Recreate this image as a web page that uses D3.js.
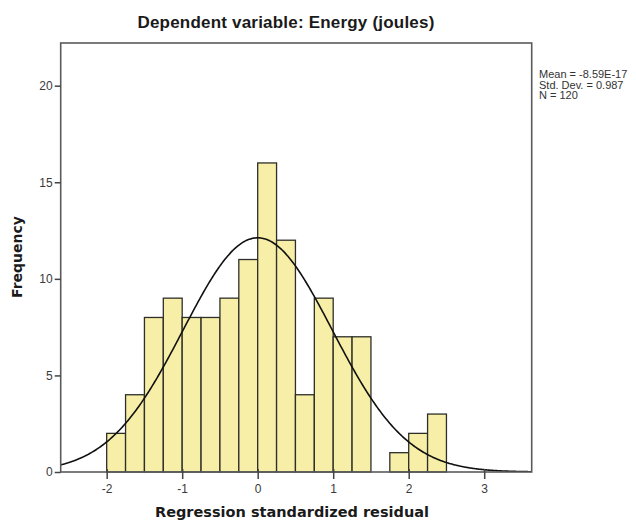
<!DOCTYPE html>
<html>
<head>
<meta charset="utf-8">
<script src="https://cdn.jsdelivr.net/npm/d3@7"></script>
<style>
  html, body { margin: 0; padding: 0; background: #fff; }
  svg { display: block; }
</style>
</head>
<body>
<svg id="chart" width="636" height="521"></svg>
<script>
// ---- Data ----
const binStarts = [-2.0, -1.75, -1.5, -1.25, -1.0, -0.75, -0.5, -0.25, 0.0, 0.25, 0.5, 0.75, 1.0, 1.25, 1.5, 1.75, 2.0, 2.25];
const frequencies = [2, 4, 8, 9, 8, 8, 9, 11, 16, 12, 4, 9, 7, 7, 0, 1, 2, 3];
const binWidth = 0.25;
const xTicks = [-2, -1, 0, 1, 2, 3];
const yTicks = [0, 5, 10, 15, 20];
const statMean = -8.59e-17;
const statSD = 0.987;
const statN = 120;
const legendLines = ["Mean = -8.59E-17", "Std. Dev. = 0.987", "N = 120"];
const titleText = "Dependent variable: Energy (joules)";
const xLabel = "Regression standardized residual";
const yLabel = "Frequency";

// ---- Layout ----
const svg = d3.select("#chart");
const plot = { left: 60.7, right: 531.7, top: 43, bottom: 472 };

const x = d3.scaleLinear().domain([-2.609, 3.629]).range([plot.left, plot.right]);
const y = d3.scaleLinear().domain([0, 22.21]).range([plot.bottom, plot.top]);

// Bars
svg.append("g").selectAll("rect")
  .data(binStarts.map((s, i) => ({ s, f: frequencies[i] })).filter(d => d.f > 0))
  .join("rect")
  .attr("x", d => x(d.s))
  .attr("y", d => y(d.f))
  .attr("width", d => x(d.s + binWidth) - x(d.s))
  .attr("height", d => y(0) - y(d.f))
  .attr("fill", "#f7efa7")
  .attr("stroke", "#2e2e2a")
  .attr("stroke-width", 1.3);

// Normal curve (fitted from mean, sd, N and bin width)
const pdf = v => Math.exp(-0.5 * Math.pow((v - statMean) / statSD, 2)) / (statSD * Math.sqrt(2 * Math.PI));
const [x0, x1] = x.domain();
const curvePts = d3.range(0, 401).map(i => x0 + (x1 - x0) * i / 400);
svg.append("clipPath").attr("id", "clip").append("rect")
  .attr("x", plot.left).attr("y", plot.top)
  .attr("width", plot.right - plot.left).attr("height", plot.bottom - plot.top);
svg.append("path")
  .datum(curvePts)
  .attr("clip-path", "url(#clip)")
  .attr("fill", "none")
  .attr("stroke", "#111")
  .attr("stroke-width", 1.6)
  .attr("d", d3.line().x(v => x(v)).y(v => y(statN * binWidth * pdf(v))).curve(d3.curveBasis));

// Frame
svg.append("rect")
  .attr("x", plot.left).attr("y", plot.top)
  .attr("width", plot.right - plot.left).attr("height", plot.bottom - plot.top)
  .attr("fill", "none").attr("stroke", "#5a5a5a").attr("stroke-width", 1.6);

const fmt = d => String(d);

// Y axis
const yAxis = svg.append("g")
  .attr("transform", `translate(${plot.left},0)`)
  .call(d3.axisLeft(y).tickValues(yTicks).tickFormat(fmt).tickSize(6).tickPadding(2));
yAxis.select(".domain").remove();
yAxis.selectAll(".tick line").attr("stroke", "#444").attr("stroke-width", 1.5);
yAxis.selectAll(".tick text")
  .attr("font-family", "Liberation Sans, Arial, sans-serif")
  .attr("font-size", 12).attr("fill", "#3a3a3a");

// X axis
const xAxis = svg.append("g")
  .attr("transform", `translate(0,${plot.bottom})`)
  .call(d3.axisBottom(x).tickValues(xTicks).tickFormat(fmt).tickSize(7).tickPadding(5));
xAxis.select(".domain").remove();
xAxis.selectAll(".tick line").attr("stroke", "#444").attr("stroke-width", 1.5).attr("y1", -3);
xAxis.selectAll(".tick text")
  .attr("font-family", "Liberation Sans, Arial, sans-serif")
  .attr("font-size", 12).attr("fill", "#3a3a3a");

// Title
svg.append("text")
  .attr("x", 286).attr("y", 28)
  .attr("text-anchor", "middle")
  .attr("font-family", "Liberation Sans, Arial, sans-serif")
  .attr("font-weight", "bold").attr("font-size", 17)
  .attr("letter-spacing", 0.2)
  .attr("fill", "#1a1a1a")
  .text(titleText);

// X label
svg.append("text")
  .attr("x", 292).attr("y", 517)
  .attr("text-anchor", "middle")
  .attr("font-family", "DejaVu Sans, Verdana, sans-serif")
  .attr("font-weight", "bold").attr("font-size", 14.5)
  .attr("fill", "#1a1a1a")
  .text(xLabel);

// Y label
svg.append("text")
  .attr("transform", "translate(22,257) rotate(-90)")
  .attr("text-anchor", "middle")
  .attr("font-family", "DejaVu Sans, Verdana, sans-serif")
  .attr("font-weight", "bold").attr("font-size", 14)
  .attr("fill", "#1a1a1a")
  .text(yLabel);

// Legend stats
svg.append("g").selectAll("text")
  .data(legendLines)
  .join("text")
  .attr("x", 539)
  .attr("y", (d, i) => 78 + i * 10.5)
  .attr("font-family", "Liberation Sans, Arial, sans-serif")
  .attr("font-size", 11)
  .attr("fill", "#333")
  .text(d => d);
</script>
</body>
</html>
